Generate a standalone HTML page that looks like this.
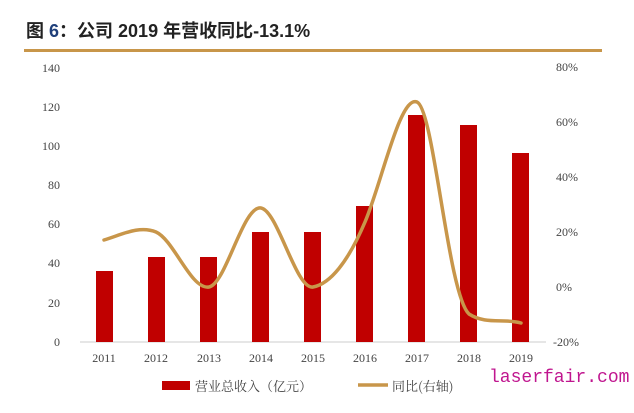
<!DOCTYPE html>
<html><head><meta charset="utf-8"><style>
body{margin:0;background:#fff;width:634px;height:408px;overflow:hidden}
</style></head><body>
<svg width="634" height="408" xmlns="http://www.w3.org/2000/svg">
<text x="26" y="37" font-family="Liberation Sans,'Noto Sans CJK SC',sans-serif" font-size="18" font-weight="bold" fill="#222">图 <tspan fill="#1f3f7a">6</tspan>：公司 2019 年营收同比-13.1%</text>
<rect x="24" y="49" width="578" height="3" fill="#c8964a"/>
<g font-family="Liberation Serif,serif" font-size="12" fill="#444">
<text x="60" y="72" text-anchor="end">140</text>
<text x="60" y="111" text-anchor="end">120</text>
<text x="60" y="150" text-anchor="end">100</text>
<text x="60" y="189" text-anchor="end">80</text>
<text x="60" y="228" text-anchor="end">60</text>
<text x="60" y="267" text-anchor="end">40</text>
<text x="60" y="307" text-anchor="end">20</text>
<text x="60" y="346" text-anchor="end">0</text>
<text x="556" y="71">80%</text>
<text x="556" y="126">60%</text>
<text x="556" y="181">40%</text>
<text x="556" y="236">20%</text>
<text x="556" y="291">0%</text>
<text x="553" y="346">-20%</text>
<g text-anchor="middle">
<text x="104" y="362">2011</text><text x="156" y="362">2012</text><text x="209" y="362">2013</text>
<text x="261" y="362">2014</text><text x="313" y="362">2015</text><text x="365" y="362">2016</text>
<text x="417" y="362">2017</text><text x="469" y="362">2018</text><text x="521" y="362">2019</text>
</g></g>
<line x1="80" y1="342" x2="546" y2="342" stroke="#ccc" stroke-width="1"/>
<g fill="#c00000">
<rect x="96" y="271" width="17" height="71"/>
<rect x="148" y="257" width="17" height="85"/>
<rect x="200" y="257" width="17" height="85"/>
<rect x="252" y="232" width="17" height="110"/>
<rect x="304" y="232" width="17" height="110"/>
<rect x="356" y="206" width="17" height="136"/>
<rect x="408" y="115" width="17" height="227"/>
<rect x="460" y="125" width="17" height="217"/>
<rect x="512" y="153" width="17" height="189"/>
</g>
<path d="M104,240 C121,235 139,225 156,232 C174,240 191,290 209,287 C226,284 243,205 261,208 C278,211 296,290 313,287 C330,284 348,262 365,222 C382,182 400,95 417,102 C434,109 448,295 469,314 C486,325 504,318 521,323" fill="none" stroke="#c8964a" stroke-width="3.5" stroke-linecap="round"/>
<rect x="162" y="381" width="28" height="9" fill="#c00000"/>
<text x="195" y="391" font-family="'Noto Serif CJK SC',serif" font-size="13" fill="#444">营业总收入（亿元）</text>
<line x1="358" y1="385" x2="388" y2="385" stroke="#c8964a" stroke-width="3.5"/>
<text x="392" y="391" font-family="'Noto Serif CJK SC',serif" font-size="13" fill="#444">同比(右轴)</text>
<text x="489" y="382" font-family="Liberation Mono,monospace" font-size="18" fill="#c0168f">laserfair.com</text>
</svg>
</body></html>
